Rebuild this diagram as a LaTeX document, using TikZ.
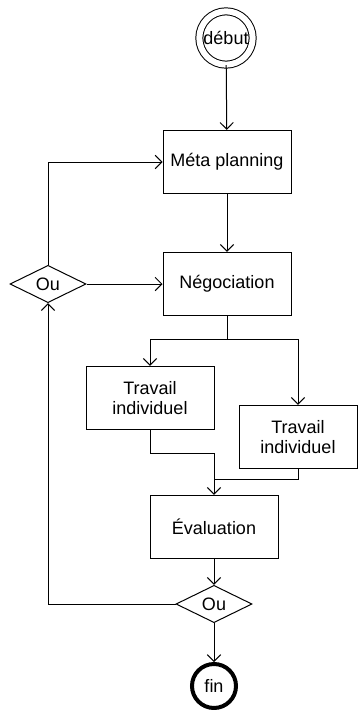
\documentclass[tikz,border=0pt]{standalone}
\usepackage{fontspec}
\setmainfont{Liberation Sans}
\usepackage{tikz}
\usetikzlibrary{shapes.geometric, arrows.meta, positioning}

\begin{document}
\begin{tikzpicture}[
    x=0.75pt, y=-0.75pt,
    font=\fontsize{13.5}{15}\selectfont,
    every path/.style={line width=0.75pt},
    task/.style={rectangle, draw, minimum width=96pt, minimum height=47.5pt,
                 inner sep=0pt, align=center},
    choix/.style={diamond, draw, minimum width=57pt, minimum height=28pt,
                  inner sep=0pt},
    arr/.style={-{Straight Barb[length=5pt, width=10pt]}}
]
    \useasboundingbox (0,0) rectangle (358,710);

    % start / end
    \node[circle, draw, double, double distance=4.5pt, minimum size=40pt,
          inner sep=0pt] (debut) at (226,38) {début};
    \node[circle, draw, line width=3pt, minimum size=33pt,
          inner sep=0pt] (fin) at (214,686) {fin};

    % activities
    \node[task] (meta) at (227,162) {Méta planning};
    \node[task] (nego) at (227,284) {Négociation};
    \node[task] (trav1) at (150,398) {Travail\\individuel};
    \node[task, minimum width=88.5pt] (trav2) at (298,437) {Travail\\individuel};
    \node[task] (eval) at (214,527) {Évaluation};

    % decisions
    \node[choix] (ou1) at (48,284) {Ou};
    \node[choix] (ou2) at (214,604) {Ou};

    \coordinate (split) at (227,339);
    \coordinate (merge1) at (214,453);
    \coordinate (merge2) at (214,479);

    \draw[arr] (debut) -- (meta);
    \draw[arr] (meta) -- (nego);
    \draw[arr] (ou1.north) |- (meta.west);
    \draw[arr] (ou1.east) -- (nego.west);
    \draw (nego.south) -- (split);
    \draw[arr] (split) -| (trav1.north);
    \draw[arr] (split) -| (trav2.north);
    \draw[arr] (trav1.south) |- (merge1) -- (eval.north);
    \draw (trav2.south) |- (merge2);
    \draw[arr] (eval) -- (ou2);
    \draw[arr] (ou2.west) -| (ou1.south);
    \draw[arr] (ou2) -- (fin);
\end{tikzpicture}
\end{document}
